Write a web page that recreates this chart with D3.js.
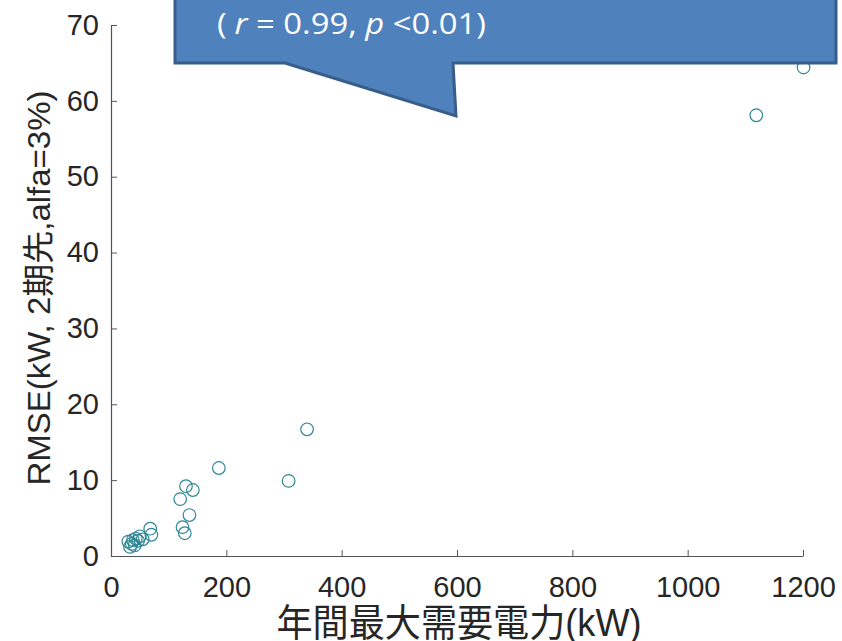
<!DOCTYPE html>
<html lang="ja">
<head>
<meta charset="utf-8">
<script src="https://cdn.jsdelivr.net/npm/d3@7"></script>
<style>
  body { margin: 0; background: #fff; }
  svg { display: block; }
</style>
</head>
<body>
<div id="chart"></div>
<script>
// data
var demandKW = [30, 33, 36, 38, 41, 43, 47, 50, 55, 68, 70, 120, 124, 128, 130, 136, 142, 187, 308, 340, 1119, 1201];
var rmseKW   = [1.9, 1.2, 1.6, 2.1, 1.4, 2.3, 2.0, 2.6, 2.2, 3.6, 2.8, 7.5, 3.8, 3.0, 9.2, 5.4, 8.7, 11.6, 9.9, 16.7, 58.1, 64.4];
var xTicks = [0, 200, 400, 600, 800, 1000, 1200];
var yTicks = [0, 10, 20, 30, 40, 50, 60, 70];
var xTitle = "年間最大需要電力(kW)";
var yTitle = "RMSE(kW, 2期先,alfa=3%)";

var W = 842, H = 641;
var plotL = 111, plotR = 803, plotT = 25, plotB = 556;

var svg = d3.select("#chart").append("svg")
  .attr("width", W)
  .attr("height", H)
  .style("background", "#fff");

var x = d3.scaleLinear().domain([0, 1200]).range([plotL, plotR]);
var y = d3.scaleLinear().domain([0, 70]).range([plotB, plotT]);

var fontLatin = "'Liberation Sans', Arial, sans-serif";
var fontJP = "'Liberation Sans', 'Noto Sans CJK JP', sans-serif";

// axes, ticks pointing inside like matlab
var xAxis = svg.append("g")
  .attr("transform", "translate(0," + plotB + ")")
  .call(d3.axisBottom(x).tickValues(xTicks).tickFormat(d3.format("d"))
    .tickSize(-6).tickSizeOuter(0).tickPadding(20));
var yAxis = svg.append("g")
  .attr("transform", "translate(" + plotL + ",0)")
  .call(d3.axisLeft(y).tickValues(yTicks).tickFormat(d3.format("d"))
    .tickSize(-6).tickSizeOuter(0).tickPadding(12));

[xAxis, yAxis].forEach(function(ax){
  ax.select(".domain").attr("stroke", "#555").attr("stroke-width", 1.2);
  ax.selectAll(".tick line").attr("stroke", "#555").attr("stroke-width", 1);
  ax.selectAll(".tick text")
    .attr("fill", "#262626")
    .style("font-family", fontLatin)
    .style("font-size", "29px");
});

// axis titles
svg.append("text")
  .attr("x", 459)
  .attr("y", 636)
  .attr("text-anchor", "middle")
  .attr("textLength", 365)
  .attr("lengthAdjust", "spacingAndGlyphs")
  .attr("fill", "#262626")
  .style("font-family", fontJP)
  .style("font-size", "38px")
  .text(xTitle);

svg.append("text")
  .attr("transform", "translate(50,288) rotate(-90)")
  .attr("text-anchor", "middle")
  .attr("textLength", 395)
  .attr("lengthAdjust", "spacingAndGlyphs")
  .attr("fill", "#262626")
  .style("font-family", fontJP)
  .style("font-size", "32px")
  .text(yTitle);

// scatter
var pts = demandKW.map(function(d, i){ return {x: d, y: rmseKW[i]}; });
svg.append("g").selectAll("circle")
  .data(pts)
  .enter().append("circle")
  .attr("cx", function(d){ return x(d.x); })
  .attr("cy", function(d){ return y(d.y); })
  .attr("r", 6.3)
  .attr("fill", "none")
  .attr("stroke", "#2e8794")
  .attr("stroke-width", 1.2);

// callout balloon (annotation, drawn on top)
var balloon = [[175, -20], [836, -20], [836, 63], [453, 63], [456, 116], [285, 63], [175, 63]];
svg.append("path")
  .attr("d", d3.line()(balloon) + "Z")
  .attr("fill", "#4f81bd")
  .attr("stroke", "#385d8a")
  .attr("stroke-width", 3)
  .attr("stroke-linejoin", "miter");

var note = svg.append("text")
  .attr("x", 217)
  .attr("y", 34)
  .attr("fill", "#fff")
  .attr("textLength", 269)
  .attr("lengthAdjust", "spacingAndGlyphs")
  .style("font-family", "'Open Sans', sans-serif")
  .style("font-size", "29px");
note.append("tspan").text("(");
note.append("tspan").attr("dx", 7).style("font-style", "italic").text("r");
note.append("tspan").text(" = 0.99, ");
note.append("tspan").style("font-style", "italic").text("p");
note.append("tspan").text(" <0.01)");
</script>
</body>
</html>
